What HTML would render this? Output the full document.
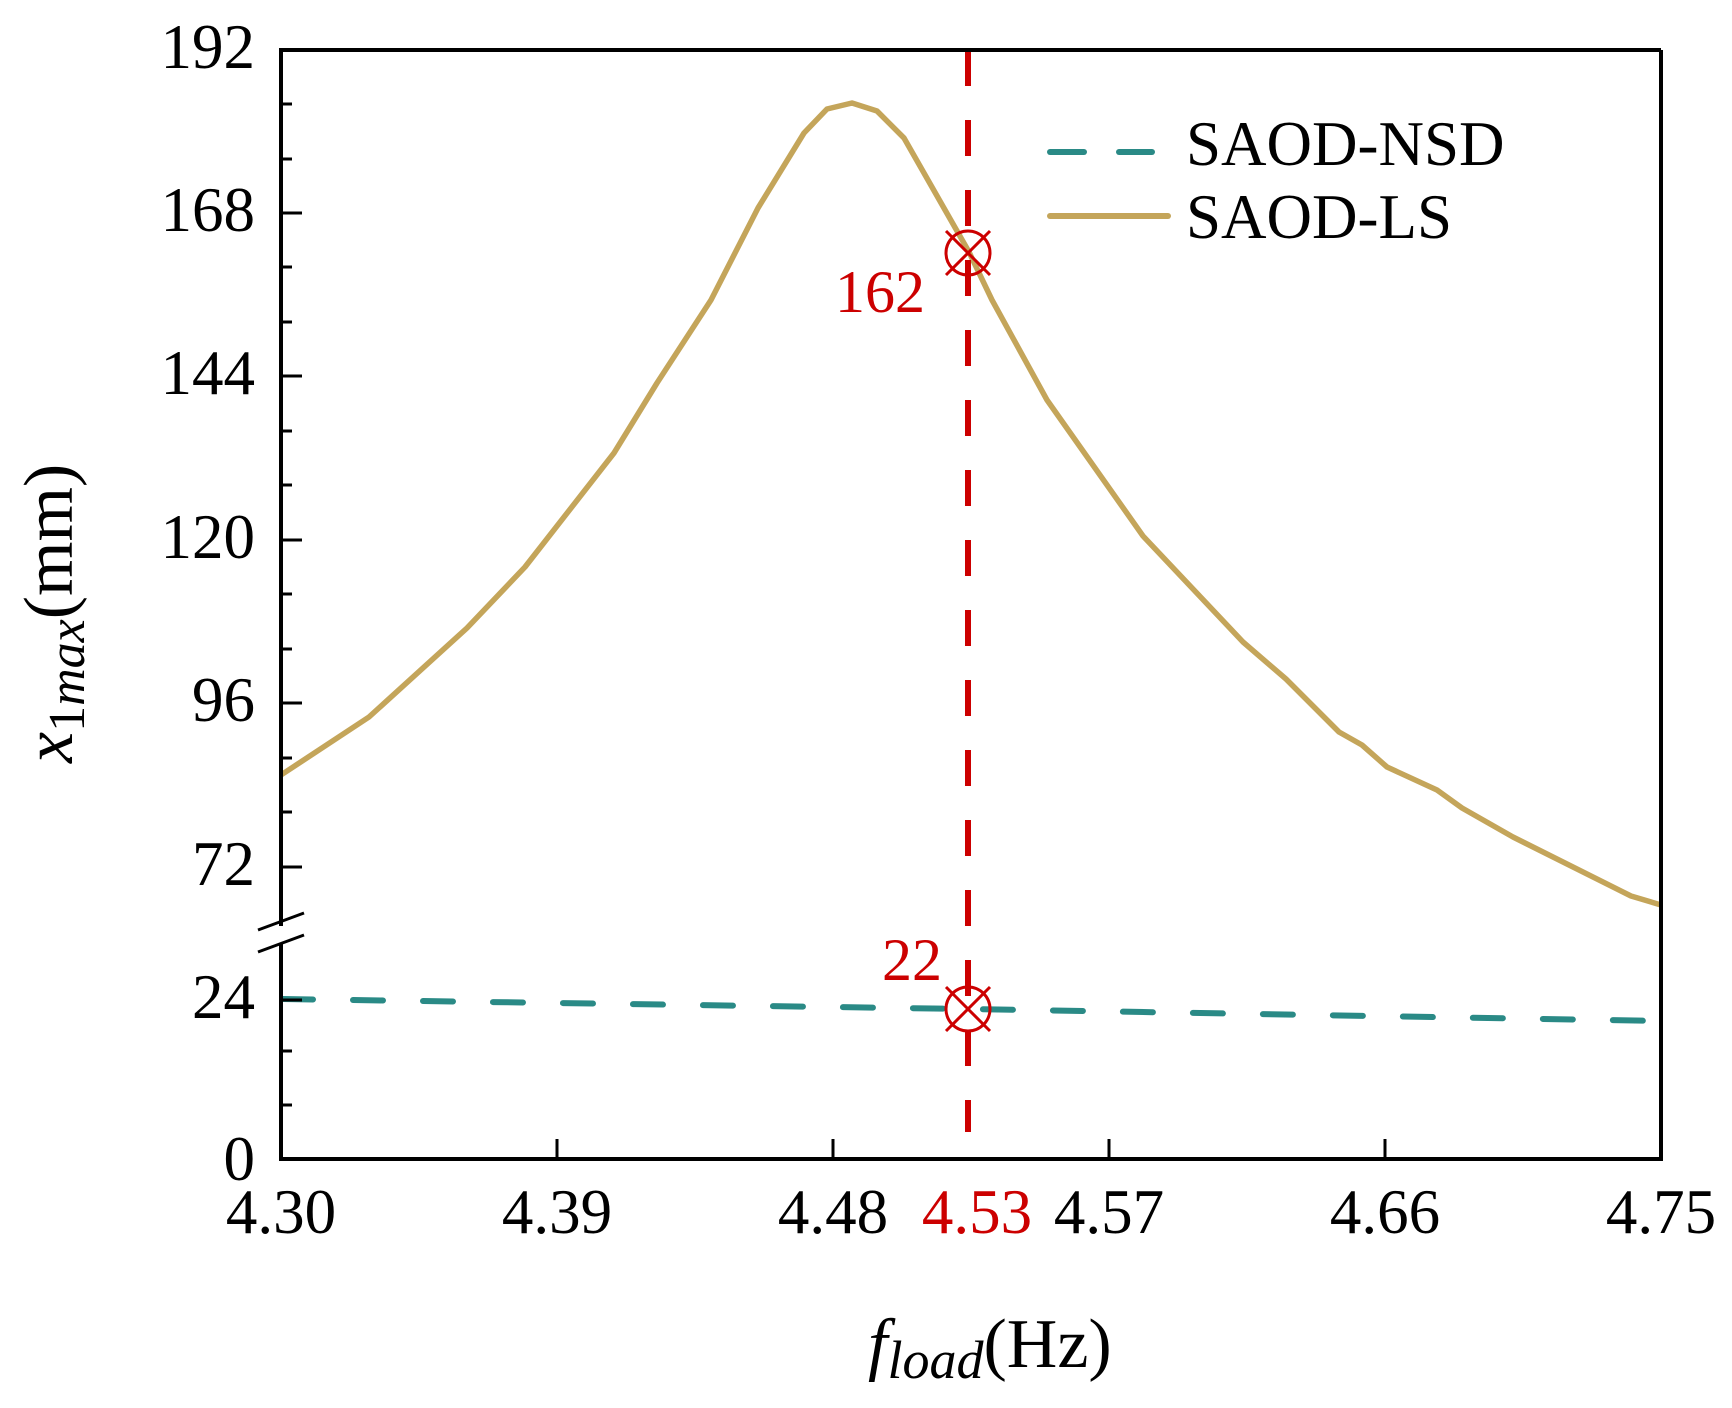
<!DOCTYPE html>
<html><head><meta charset="utf-8"><style>
html,body{margin:0;padding:0;background:#fff;}
svg{display:block;font-family:"Liberation Serif","Times New Roman",Times,serif;}
text{font-family:"Liberation Serif","Times New Roman",Times,serif;}
</style></head><body>
<svg width="1732" height="1408" viewBox="0 0 1732 1408" xmlns="http://www.w3.org/2000/svg" font-family="Liberation Serif, Times New Roman, serif">
<rect width="1732" height="1408" fill="#fff"/>
<polyline fill="none" stroke="#c4a55a" stroke-width="5.5" stroke-linejoin="round"
 points="281,775 369,717 467,628 525,567 614,453 657,383 711,300 758,208 804,133 827,109 852,103 877,111 904,138 969,252 992,300 1047,400 1143,536 1243,642 1286,679 1339,732 1362,745 1387,767 1437,790 1462,808 1513,837 1631,896 1661,905"/>
<polyline fill="none" stroke="#2a8a86" stroke-width="6" stroke-linecap="round" stroke-dasharray="30,40"
 points="283,999 968,1009 1661,1021"/>
<line x1="968" y1="50" x2="968" y2="1132" stroke="#cc0000" stroke-width="6" stroke-dasharray="36,34"/>
<g stroke="#cc0000" stroke-width="3" fill="none">
<circle cx="968" cy="253" r="22"/>
<line x1="946" y1="231" x2="990" y2="275"/><line x1="990" y1="231" x2="946" y2="275"/>
<circle cx="968" cy="1009" r="22"/>
<line x1="946" y1="987" x2="990" y2="1031"/><line x1="990" y1="987" x2="946" y2="1031"/>
</g>
<text x="835" y="312" font-size="60" fill="#cc0000" font-family="Liberation Serif, serif">162</text>
<text x="882" y="980" font-size="60" fill="#cc0000" font-family="Liberation Serif, serif">22</text>
<g stroke="#000" stroke-width="4" fill="none">
<line x1="281" y1="50" x2="1661" y2="50"/>
<line x1="1661" y1="50" x2="1661" y2="1159"/>
<line x1="279" y1="1159" x2="1663" y2="1159"/>
<line x1="281" y1="48" x2="281" y2="926"/>
<line x1="281" y1="944" x2="281" y2="1161"/>
</g>
<g stroke="#000" stroke-width="3">
<line x1="258" y1="930" x2="304" y2="913"/>
<line x1="258" y1="952" x2="304" y2="935"/>
</g>
<g stroke="#000" stroke-width="3">
<line x1="281" y1="213" x2="302" y2="213"/>
<line x1="281" y1="376" x2="302" y2="376"/>
<line x1="281" y1="540" x2="302" y2="540"/>
<line x1="281" y1="703" x2="302" y2="703"/>
<line x1="281" y1="867" x2="302" y2="867"/>
<line x1="281" y1="104" x2="292" y2="104"/>
<line x1="281" y1="159" x2="292" y2="159"/>
<line x1="281" y1="267" x2="292" y2="267"/>
<line x1="281" y1="322" x2="292" y2="322"/>
<line x1="281" y1="431" x2="292" y2="431"/>
<line x1="281" y1="485" x2="292" y2="485"/>
<line x1="281" y1="594" x2="292" y2="594"/>
<line x1="281" y1="649" x2="292" y2="649"/>
<line x1="281" y1="758" x2="292" y2="758"/>
<line x1="281" y1="812" x2="292" y2="812"/>
<line x1="281" y1="1000" x2="302" y2="1000"/>
<line x1="281" y1="1051" x2="292" y2="1051"/>
<line x1="281" y1="1105" x2="292" y2="1105"/>
<line x1="557" y1="1159" x2="557" y2="1139"/>
<line x1="833" y1="1159" x2="833" y2="1139"/>
<line x1="1109" y1="1159" x2="1109" y2="1139"/>
<line x1="1385" y1="1159" x2="1385" y2="1139"/>
</g>
<g font-size="63" text-anchor="end" fill="#000" font-family="Liberation Serif, serif">
<text x="255" y="68">192</text>
<text x="255" y="231">168</text>
<text x="255" y="394">144</text>
<text x="255" y="558">120</text>
<text x="255" y="721">96</text>
<text x="255" y="885">72</text>
<text x="255" y="1018">24</text>
<text x="255" y="1180">0</text>
</g>
<g font-size="63" text-anchor="middle" fill="#000" font-family="Liberation Serif, serif">
<text x="281" y="1233">4.30</text>
<text x="557" y="1233">4.39</text>
<text x="833" y="1233">4.48</text>
<text x="977" y="1233" fill="#cc0000">4.53</text>
<text x="1109" y="1233">4.57</text>
<text x="1385" y="1233">4.66</text>
<text x="1661" y="1233">4.75</text>
</g>
<line x1="1050" y1="152" x2="1084" y2="152" stroke="#2a8a86" stroke-width="6" stroke-linecap="round"/>
<line x1="1119" y1="152" x2="1152" y2="152" stroke="#2a8a86" stroke-width="6" stroke-linecap="round"/>
<line x1="1050" y1="216" x2="1168" y2="216" stroke="#c4a55a" stroke-width="6" stroke-linecap="round"/>
<g font-family="Liberation Serif, serif">
<text x="1186" y="165" font-size="63">SAOD-NSD</text>
<text x="1186" y="238" font-size="63">SAOD-LS</text>
<text transform="translate(72,763) rotate(-90)" font-size="70"><tspan font-style="italic">x</tspan><tspan font-size="52" dy="12">1</tspan><tspan font-size="52" font-style="italic">max</tspan><tspan dy="-12">(mm)</tspan></text>
<text x="868" y="1367" font-size="70"><tspan font-style="italic">f</tspan><tspan font-size="54" font-style="italic" dy="11">load</tspan><tspan dy="-11">(Hz)</tspan></text>
</g>
</svg>
</body></html>
